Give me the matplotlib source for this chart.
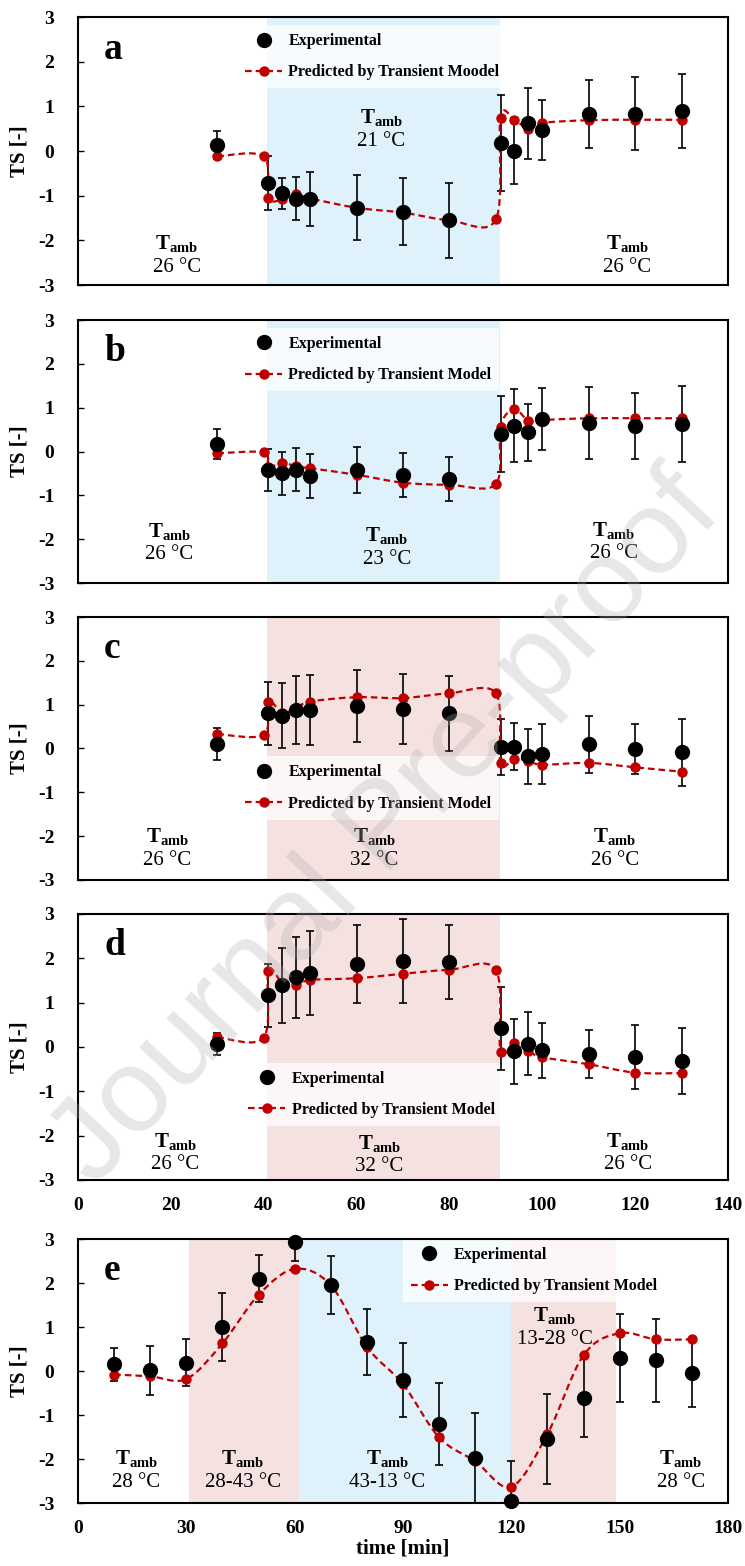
import matplotlib
matplotlib.use("Agg")
import matplotlib.pyplot as plt
from matplotlib.lines import Line2D
from matplotlib.path import Path
from matplotlib.patches import PathPatch

plt.rcParams["font.family"] = ["Liberation Serif", "DejaVu Serif"]
plt.rcParams["mathtext.fontset"] = "custom"
plt.rcParams["mathtext.rm"] = "Liberation Serif"
plt.rcParams["mathtext.bf"] = "Liberation Serif:bold"
plt.rcParams["mathtext.it"] = "Liberation Serif:italic"
plt.rcParams["axes.unicode_minus"] = False

RED = "#c00000"
BLUE_BG = "#dff2fb"
PINK_BG = "#f6e1e1"

# panels a-d share one time grid (minutes)
exp_time = [30, 41, 44, 47, 50, 60, 70, 80, 91, 94, 97, 100, 110, 120, 130]
pred_time = [30, 40, 41, 44, 47, 50, 60, 70, 80, 90, 91, 94, 97, 100, 110, 120, 130]
step_times = [40.8, 90.9]

a_exp = [0.13, -0.72, -0.95, -1.07, -1.07, -1.27, -1.36, -1.55, 0.18, 0.0, 0.62, 0.47, 0.82, 0.84, 0.90]
a_err = [0.31, 0.61, 0.35, 0.48, 0.60, 0.73, 0.75, 0.84, 1.07, 0.73, 0.79, 0.68, 0.76, 0.82, 0.83]
a_pred = [-0.12, -0.12, -1.05, -1.08, -0.96, -1.06, -1.27, -1.38, -1.55, -1.53,
          0.75, 0.70, 0.50, 0.63, 0.69, 0.70, 0.70]

b_exp = [0.18, -0.42, -0.50, -0.42, -0.55, -0.42, -0.53, -0.63, 0.40, 0.59, 0.44, 0.74, 0.65, 0.59, 0.63]
b_err = [0.34, 0.48, 0.50, 0.49, 0.50, 0.52, 0.50, 0.50, 0.87, 0.83, 0.65, 0.71, 0.83, 0.75, 0.86]
b_pred = [-0.04, -0.02, -0.35, -0.25, -0.34, -0.38, -0.53, -0.71, -0.76, -0.74,
          0.57, 0.97, 0.70, 0.72, 0.76, 0.76, 0.76]

c_exp = [0.10, 0.80, 0.75, 0.88, 0.88, 0.97, 0.91, 0.80, 0.04, 0.04, -0.18, -0.13, 0.10, -0.02, -0.09]
c_err = [0.36, 0.72, 0.74, 0.77, 0.80, 0.83, 0.80, 0.85, 0.64, 0.54, 0.62, 0.68, 0.65, 0.57, 0.76]
c_pred = [0.33, 0.31, 1.07, 0.82, 0.92, 1.07, 1.17, 1.15, 1.26, 1.26,
          -0.33, -0.23, -0.28, -0.37, -0.33, -0.43, -0.53]

d_exp = [0.07, 1.17, 1.39, 1.57, 1.66, 1.87, 1.94, 1.92, 0.42, -0.10, 0.07, -0.08, -0.16, -0.23, -0.32]
d_err = [0.25, 0.71, 0.85, 0.92, 0.95, 0.88, 0.95, 0.83, 0.93, 0.73, 0.71, 0.61, 0.55, 0.72, 0.74]
d_pred = [0.22, 0.21, 1.71, 1.45, 1.40, 1.51, 1.55, 1.65, 1.74, 1.74,
          -0.12, 0.10, -0.09, -0.23, -0.39, -0.58, -0.59]

e_time = [10, 20, 30, 40, 50, 60, 70, 80, 90, 100, 110, 120, 130, 140, 150, 160, 170]
e_exp = [0.15, 0.02, 0.19, 1.00, 2.10, 2.93, 1.95, 0.66, -0.21, -1.21, -1.98, -2.96, -1.55, -0.61, 0.30, 0.24, -0.04]
e_err = [0.37, 0.56, 0.53, 0.78, 0.53, 0.43, 0.66, 0.74, 0.84, 0.93, 1.03, 0.92, 1.02, 0.90, 1.00, 0.95, 0.78]
e_pred = [-0.08, -0.12, -0.18, 0.63, 1.73, 2.32, 1.95, 0.55, -0.30, -1.51, -2.05, -2.63, -1.43, 0.36, 0.86, 0.72, 0.72]
e_spans = [(30.8, 61.2, PINK_BG), (61.2, 120.0, BLUE_BG), (120.0, 149.0, PINK_BG)]

LEGEND_EXP = "Experimental"
LEGEND_PRED = "Predicted by Transient Model"


def smooth_path(xs, ys):
    # Excel-style smoothed line: Catmull-Rom segments as cubic Bezier curves
    pts = list(zip(xs, ys))
    n = len(pts)
    verts = [pts[0]]
    codes = [Path.MOVETO]
    for i in range(n - 1):
        p0 = pts[i - 1] if i > 0 else pts[i]
        p1 = pts[i]
        p2 = pts[i + 1]
        p3 = pts[i + 2] if i + 2 < n else pts[i + 1]
        c1 = (p1[0] + (p2[0] - p0[0]) / 6, p1[1] + (p2[1] - p0[1]) / 6)
        c2 = (p2[0] - (p3[0] - p1[0]) / 6, p2[1] - (p3[1] - p1[1]) / 6)
        verts += [c1, c2, p2]
        codes += [Path.CURVE4] * 3
    return Path(verts, codes)


def amb_label(ax, x, y, temp):
    ax.annotate("$\\mathbf{T_{amb}}$", (x, y), xytext=(0, 9), textcoords="offset points",
                ha="center", va="center", fontsize=15, zorder=5)
    ax.annotate(temp, (x, y), xytext=(0, -8), textcoords="offset points",
                ha="center", va="center", fontsize=15, zorder=5)


def draw_panel(ax, letter, xe, ye, err, xp, yp, pred_label, legend_at, xmax):
    ax.errorbar(xe, ye, yerr=err, fmt="none", ecolor="black", elinewidth=1.2,
                capsize=3, capthick=1.2, zorder=2)
    ax.add_patch(PathPatch(smooth_path(xp, yp), fill=False, edgecolor=RED,
                           lw=1.6, ls=(0, (3, 1.8)), zorder=3))
    ax.plot(xp, yp, "o", color=RED, ms=6.5, zorder=3.5, clip_on=False)
    ax.plot(xe, ye, "o", color="black", ms=10, zorder=4, clip_on=False)

    ax.set_xlim(0, xmax)
    ax.set_ylim(-3, 3)
    ax.set_yticks(range(-3, 4))
    ax.tick_params(axis="y", direction="in", length=4, width=1, pad=17, labelsize=14)
    ax.tick_params(axis="x", length=0, pad=12, labelsize=14)
    for lab in ax.get_yticklabels() + ax.get_xticklabels():
        lab.set_fontweight("bold")
    for sp in ax.spines.values():
        sp.set_linewidth(1.5)
    ax.set_ylabel("TS [-]", fontsize=15, fontweight="bold")
    ax.yaxis.set_label_coords(-0.075, 0.5)
    ax.text(0.04, 0.88, letter, transform=ax.transAxes, fontsize=27,
            fontweight="bold", ha="left", va="center", zorder=5)

    handles = [
        Line2D([], [], marker="o", color="black", ls="none", ms=10),
        Line2D([], [], marker="o", color=RED, ls=(0, (3, 1.8)), lw=1.6, ms=6.5),
    ]
    leg = ax.legend(handles, [LEGEND_EXP, pred_label], loc="upper left",
                    bbox_to_anchor=legend_at, frameon=True, fancybox=False,
                    prop={"weight": "bold", "size": 11.5}, labelspacing=0.95,
                    handlelength=2.3, handletextpad=0.4, borderpad=0.5,
                    borderaxespad=0)
    leg.get_frame().set_facecolor("white")
    leg.get_frame().set_edgecolor("none")
    leg.get_frame().set_alpha(0.72)
    leg.set_zorder(1.5)


fig = plt.figure(figsize=(7.45, 15.66), dpi=100)
left, width = 0.1047, 0.8725
ax_a = fig.add_axes([left, 0.8180, width, 0.1711])
ax_b = fig.add_axes([left, 0.6277, width, 0.1679])
ax_c = fig.add_axes([left, 0.4381, width, 0.1679])
ax_d = fig.add_axes([left, 0.2465, width, 0.1699])
ax_e = fig.add_axes([left, 0.0402, width, 0.1686])

# a: cool step to 21 C
ax_a.axvspan(step_times[0], step_times[1], color=BLUE_BG, lw=0, zorder=0)
draw_panel(ax_a, "a", exp_time, a_exp, a_err, pred_time, a_pred,
           "Predicted by Transient Moodel", (0.245, 0.97), 140)
amb_label(ax_a, 21.3, -2.35, "26 °C")
amb_label(ax_a, 65.3, 0.47, "21 °C")
amb_label(ax_a, 118.3, -2.35, "26 °C")

# b: cool step to 23 C
ax_b.axvspan(step_times[0], step_times[1], color=BLUE_BG, lw=0, zorder=0)
draw_panel(ax_b, "b", exp_time, b_exp, b_err, pred_time, b_pred,
           LEGEND_PRED, (0.245, 0.97), 140)
amb_label(ax_b, 19.7, -2.1, "26 °C")
amb_label(ax_b, 66.5, -2.2, "23 °C")
amb_label(ax_b, 115.4, -2.08, "26 °C")

# c: warm step to 32 C
ax_c.axvspan(step_times[0], step_times[1], color=PINK_BG, lw=0, zorder=0)
draw_panel(ax_c, "c", exp_time, c_exp, c_err, pred_time, c_pred,
           LEGEND_PRED, (0.245, 0.47), 140)
amb_label(ax_c, 19.2, -2.3, "26 °C")
amb_label(ax_c, 63.8, -2.3, "32 °C")
amb_label(ax_c, 115.6, -2.3, "26 °C")

# d: warm step to 32 C
ax_d.axvspan(step_times[0], step_times[1], color=PINK_BG, lw=0, zorder=0)
draw_panel(ax_d, "d", exp_time, d_exp, d_err, pred_time, d_pred,
           LEGEND_PRED, (0.25, 0.44), 140)
amb_label(ax_d, 21.0, -2.41, "26 °C")
amb_label(ax_d, 64.9, -2.45, "32 °C")
amb_label(ax_d, 118.4, -2.41, "26 °C")

# e: ramps
for x0, x1, col in e_spans:
    ax_e.axvspan(x0, x1, color=col, lw=0, zorder=0)
draw_panel(ax_e, "e", e_time, e_exp, e_err, e_time, e_pred,
           LEGEND_PRED, (0.5, 1.0), 180)
amb_label(ax_e, 16.2, -2.27, "28 °C")
amb_label(ax_e, 45.6, -2.27, "28-43 °C")
amb_label(ax_e, 85.7, -2.27, "43-13 °C")
amb_label(ax_e, 166.9, -2.27, "28 °C")
amb_label(ax_e, 132.0, 0.98, "13-28 °C")

for ax in (ax_a, ax_b, ax_c):
    ax.set_xticks(range(0, 141, 20))
    ax.set_xticklabels([])
ax_d.set_xticks(range(0, 141, 20))
ax_e.set_xticks(range(0, 181, 30))
for ax in (ax_d, ax_e):
    for lab in ax.get_xticklabels():
        lab.set_fontweight("bold")
ax_e.set_xlabel("time [min]", fontsize=15, fontweight="bold", labelpad=1)

fig.text(0.52, 0.47, "Journal Pre-proof", rotation=47, rotation_mode="anchor",
         ha="center", va="center", fontsize=86, family="Liberation Sans",
         color="#b0b0b0", alpha=0.3, zorder=10)

fig.savefig("out.png", dpi=100)
